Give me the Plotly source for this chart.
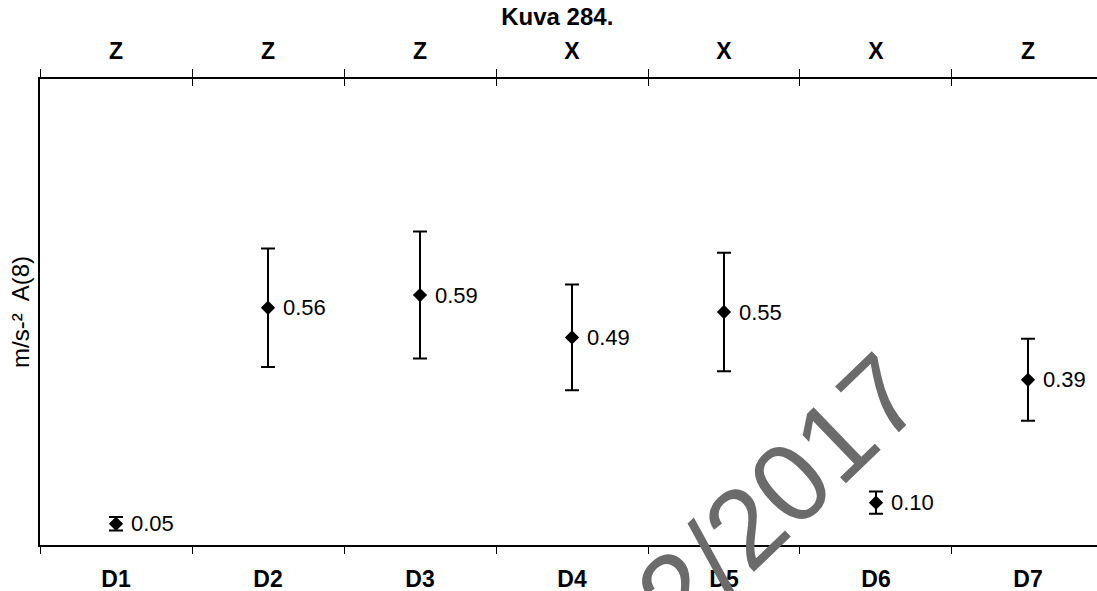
import plotly.graph_objects as go

# Données
sites = ["D1", "D2", "D3", "D4", "D5", "D6", "D7"]
axes_top = ["Z", "Z", "Z", "X", "X", "X", "Z"]
a8 = [0.05, 0.56, 0.59, 0.49, 0.55, 0.10, 0.39]
err = [0.016, 0.14, 0.15, 0.125, 0.14, 0.026, 0.097]

FONT = "Liberation Sans, Arial, sans-serif"

fig = go.Figure()
fig.add_trace(go.Scatter(
    x=sites, y=a8,
    mode="markers",
    marker=dict(symbol="diamond", size=11, color="black"),
    error_y=dict(type="data", array=err, visible=True, color="black",
                 thickness=2, width=7),
    hoverinfo="skip",
    showlegend=False,
))
# traces invisibles pour les axes du haut
for ax in ("x2", "x3"):
    fig.add_trace(go.Scatter(
        x=sites, y=a8, xaxis=ax, mode="markers",
        marker=dict(opacity=0), hoverinfo="skip", showlegend=False,
    ))

# étiquettes de valeur à droite des points
for s, v in zip(sites, a8):
    fig.add_annotation(
        x=s, y=v, text=f"{v:.2f}", showarrow=False,
        xanchor="left", yanchor="middle", xshift=13,
        font=dict(family=FONT, size=22, color="black"),
    )

xrange = [-0.5, 6.454]
fig.update_layout(
    width=1097, height=591,
    margin=dict(l=40, r=0, t=79, b=46),
    paper_bgcolor="white", plot_bgcolor="white",
    font=dict(family=FONT, color="black"),
    title=dict(text="<b>Kuva 284.</b>", x=0.508, xref="container", xanchor="center",
               y=0.972, yref="container", yanchor="middle", font=dict(size=24)),
    xaxis=dict(
        type="category", categoryorder="array", categoryarray=sites,
        range=xrange, showline=True, linecolor="black", linewidth=1.5,
        ticks="outside", ticklen=7, tickcolor="black", tickson="boundaries",
        showgrid=False, zeroline=False,
        tickfont=dict(size=23), ticklabelstandoff=13,
        tickprefix="<b>", ticksuffix="</b>",
    ),
    xaxis2=dict(
        type="category", categoryorder="array", categoryarray=sites,
        overlaying="x", side="top", range=xrange,
        tickmode="array", tickvals=sites, ticktext=[f"<b>{t}</b>" for t in axes_top],
        showline=True, linecolor="black", linewidth=1.5,
        ticks="outside", ticklen=8, tickcolor="black", tickson="boundaries",
        showgrid=False, zeroline=False, tickfont=dict(size=23),
        ticklabelstandoff=9,
    ),
    xaxis3=dict(
        type="category", categoryorder="array", categoryarray=sites,
        overlaying="x", side="top", range=xrange,
        showticklabels=False, showline=False,
        ticks="inside", ticklen=7, tickcolor="black", tickson="boundaries",
        showgrid=False, zeroline=False,
    ),
    yaxis=dict(
        range=[0, 1.1], showline=True, linecolor="black", linewidth=1.5,
        showticklabels=False, ticks="", showgrid=False, zeroline=False,
        title=dict(text="m/s-²  A(8)", font=dict(size=24), standoff=2),
    ),
)

# filigrane
fig.add_annotation(
    text="2/2017", xref="paper", yref="paper", x=0.70, y=0.11,
    xanchor="center", yanchor="middle",
    showarrow=False, textangle=-44,
    font=dict(family=FONT, size=112, color="#6b6b6b"),
)

fig.write_html(
    "out.html",
    config={"displayModeBar": False},
    post_script="document.body.style.margin='0';document.body.style.overflow='hidden';",
)
